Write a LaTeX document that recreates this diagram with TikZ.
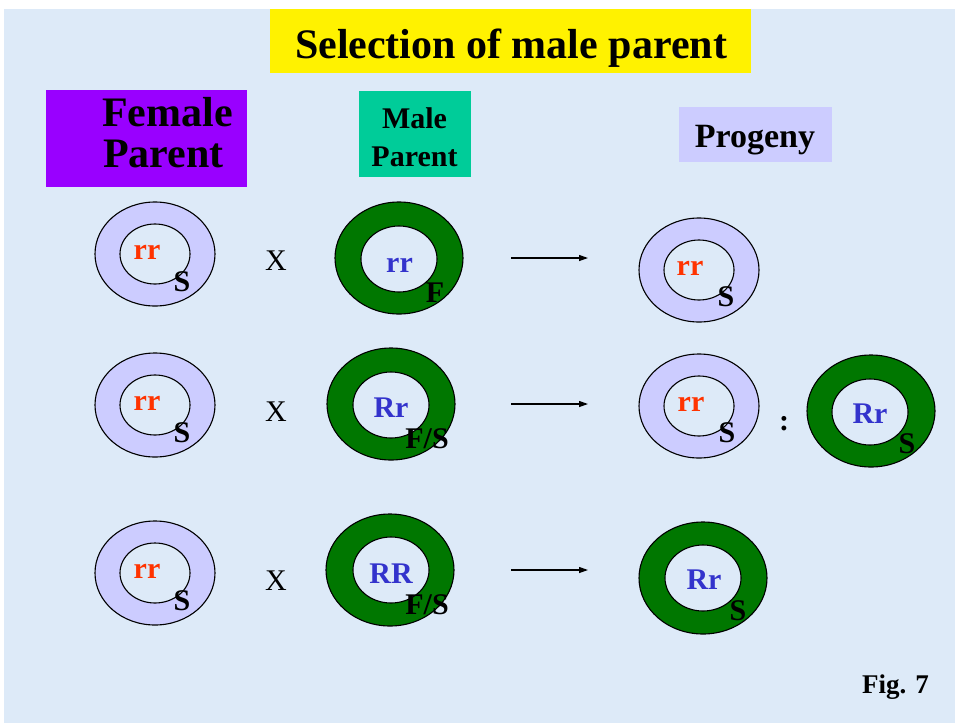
\documentclass[tikz,border=0pt]{standalone}
\usepackage{fontspec}
\setmainfont{Liberation Serif}
\usetikzlibrary{shapes.geometric,arrows.meta}
\definecolor{bg}{RGB}{221,234,248}
\definecolor{lav}{RGB}{204,204,255}
\definecolor{grn}{RGB}{0,119,0}
\definecolor{purp}{RGB}{153,0,255}
\definecolor{teal}{RGB}{0,204,153}
\definecolor{rred}{RGB}{255,51,0}
\definecolor{rblue}{RGB}{51,51,204}
\begin{document}
\begin{tikzpicture}[x=1pt,y=-1pt,
  lring/.style={ellipse, draw=black, line width=1.1pt, fill=lav, inner sep=0pt, minimum width=120pt, minimum height=104pt},
  lhole/.style={ellipse, draw=black, line width=1.1pt, fill=bg, inner sep=0pt, minimum width=70pt, minimum height=60pt},
  gring/.style={ellipse, draw=black, line width=1.1pt, fill=grn, inner sep=0pt, minimum width=128pt, minimum height=112pt},
  ghole/.style={ellipse, draw=black, line width=1.1pt, fill=bg, inner sep=0pt, minimum width=76pt, minimum height=66pt},
  lbl/.style={anchor=base, inner sep=0pt, font=\fontsize{30}{34}\selectfont\bfseries},
  redt/.style={lbl, text=rred},
  bluet/.style={lbl, text=rblue},
  cross/.style={anchor=base, inner sep=0pt, font=\fontsize{30}{34}\selectfont},
  arr/.style={line width=1.2pt, -{Triangle[length=9pt,width=6pt]}},
  box/.style={inner sep=0pt, anchor=north west}
]
\useasboundingbox (0,0) rectangle (955,723);
\fill[bg] (4,9) rectangle (955,723);

% header boxes
\node[box, fill=yellow, minimum width=481pt, minimum height=64pt] (titlebox) at (270,9) {};
\node[anchor=base, inner sep=0pt, font=\fontsize{42}{46}\selectfont\bfseries] (title) at (511,58) {Selection of male parent};
\node[box, fill=purp, minimum width=201pt, minimum height=97pt] (fbox) at (46,90) {};
\node[anchor=base west, inner sep=0pt, font=\fontsize{42}{46}\selectfont\bfseries] (ftext1) at (102,126) {Female};
\node[anchor=base west, inner sep=0pt, font=\fontsize{42}{46}\selectfont\bfseries] (ftext2) at (103,167) {Parent};
\node[box, fill=teal, minimum width=112pt, minimum height=86pt] (mbox) at (359,91) {};
\node[anchor=base, inner sep=0pt, font=\fontsize{30}{34}\selectfont\bfseries] (mtext1) at (414.5,128) {Male};
\node[anchor=base, inner sep=0pt, font=\fontsize{30}{34}\selectfont\bfseries] (mtext2) at (414.5,166) {Parent};
\node[box, fill=lav, minimum width=153pt, minimum height=55pt] (pbox) at (679,107) {};
\node[anchor=base, inner sep=0pt, font=\fontsize{34}{38}\selectfont\bfseries] (ptext) at (755,147) {Progeny};

% Row 1
\node[lring] (f1) at (155,254) {};
\node[lhole] (f1h) at (155,254) {};
\node[redt] (f1g) at (147,259) {rr};
\node[lbl] (f1s) at (182,291) {S};
\node[cross] (x1) at (276,270) {X};
\node[gring] (m1) at (399,258) {};
\node[ghole] (m1h) at (399,259) {};
\node[bluet] (m1g) at (399.5,272) {rr};
\node[lbl] (m1s) at (435,302) {F};
\coordinate (a1s) at (511,258);
\coordinate (a1e) at (588,258);
\draw[arr] (a1s) -- (a1e);
\node[lring] (p1) at (699,270) {};
\node[lhole] (p1h) at (699,270) {};
\node[redt] (p1g) at (690,275) {rr};
\node[lbl] (p1s) at (726,306) {S};

% Row 2
\node[lring] (f2) at (155,405) {};
\node[lhole] (f2h) at (155,405) {};
\node[redt] (f2g) at (147,410) {rr};
\node[lbl] (f2s) at (182,442) {S};
\node[cross] (x2) at (276,421) {X};
\node[gring] (m2) at (391,404) {};
\node[ghole] (m2h) at (391,405) {};
\node[bluet] (m2g) at (391,417) {Rr};
\node[lbl] (m2s) at (427,448) {F/S};
\coordinate (a2s) at (511,404);
\coordinate (a2e) at (588,404);
\draw[arr] (a2s) -- (a2e);
\node[lring] (p2) at (699,406) {};
\node[lhole] (p2h) at (699,406) {};
\node[redt] (p2g) at (691,411) {rr};
\node[lbl] (p2s) at (727,442) {S};
\node[lbl] (colon) at (784,430) {:};
\node[gring] (q2) at (871,411) {};
\node[ghole] (q2h) at (870,412) {};
\node[bluet] (q2g) at (870,423) {Rr};
\node[lbl] (q2s) at (907,453) {S};

% Row 3
\node[lring] (f3) at (155,573) {};
\node[lhole] (f3h) at (155,573) {};
\node[redt] (f3g) at (147,578) {rr};
\node[lbl] (f3s) at (182,610) {S};
\node[cross] (x3) at (276,590) {X};
\node[gring] (m3) at (390,570) {};
\node[ghole] (m3h) at (391,570) {};
\node[bluet] (m3g) at (391,583) {RR};
\node[lbl] (m3s) at (427,614) {F/S};
\coordinate (a3s) at (511,570);
\coordinate (a3e) at (588,570);
\draw[arr] (a3s) -- (a3e);
\node[gring] (p3) at (703,578) {};
\node[ghole] (p3h) at (703,578) {};
\node[bluet] (p3g) at (704,589) {Rr};
\node[lbl] (p3s) at (738,620) {S};

\node[anchor=base, inner sep=0pt, font=\fontsize{27}{30}\selectfont\bfseries] (fig) at (895.5,693) {Fig. 7};
\end{tikzpicture}
\end{document}
